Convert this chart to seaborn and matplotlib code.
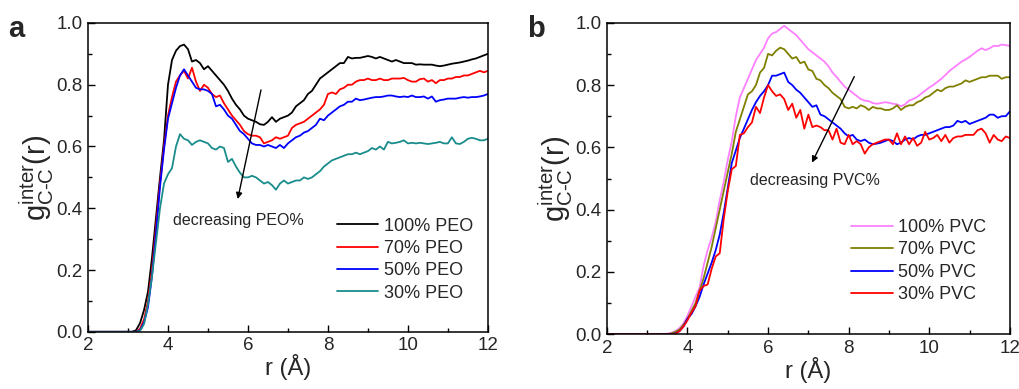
import numpy as np
import seaborn as sns
import matplotlib.pyplot as plt
from matplotlib.ticker import MultipleLocator

# r grid (0.1 A steps, 2..12)
r = np.round(np.arange(2, 12.05, 0.1), 1)

# panel a: PEO blends
peo_100 = [0, 0, 0, 0, 0, 0, 0, 0, 0, 0,
           0, 0, 0.005, 0.028, 0.07, 0.13, 0.24, 0.37, 0.50, 0.62,
           0.80, 0.88, 0.91, 0.925, 0.93, 0.915, 0.875, 0.88, 0.87, 0.85,
           0.86, 0.845, 0.83, 0.815, 0.80, 0.78, 0.755, 0.735, 0.72, 0.70,
           0.69, 0.685, 0.68, 0.672, 0.67, 0.68, 0.695, 0.68, 0.69, 0.695,
           0.70, 0.71, 0.73, 0.74, 0.75, 0.77, 0.78, 0.80, 0.82, 0.83,
           0.84, 0.85, 0.86, 0.87, 0.87, 0.89, 0.885, 0.887, 0.887, 0.89,
           0.893, 0.89, 0.885, 0.89, 0.885, 0.88, 0.875, 0.88, 0.875, 0.87,
           0.87, 0.87, 0.865, 0.866, 0.865, 0.865, 0.865, 0.862, 0.86, 0.862,
           0.865, 0.868, 0.87, 0.872, 0.875, 0.878, 0.882, 0.885, 0.89, 0.895,
           0.90]
peo_70 = [0, 0, 0, 0, 0, 0, 0, 0, 0, 0,
          0, 0, 0, 0.01, 0.04, 0.10, 0.20, 0.34, 0.48, 0.60,
          0.70, 0.76, 0.81, 0.83, 0.845, 0.82, 0.855, 0.81, 0.78, 0.80,
          0.79, 0.77, 0.76, 0.765, 0.74, 0.72, 0.70, 0.685, 0.67, 0.65,
          0.64, 0.635, 0.635, 0.63, 0.61, 0.615, 0.62, 0.63, 0.625, 0.63,
          0.635, 0.66, 0.67, 0.675, 0.68, 0.69, 0.70, 0.71, 0.72, 0.735,
          0.77, 0.775, 0.77, 0.785, 0.79, 0.80, 0.80, 0.81, 0.815, 0.815,
          0.82, 0.815, 0.815, 0.82, 0.815, 0.815, 0.82, 0.82, 0.82, 0.822,
          0.815, 0.81, 0.81, 0.818, 0.82, 0.81, 0.815, 0.805, 0.815, 0.815,
          0.82, 0.82, 0.825, 0.825, 0.83, 0.83, 0.835, 0.84, 0.845, 0.84,
          0.845]
peo_50 = [0, 0, 0, 0, 0, 0, 0, 0, 0, 0,
          0, 0, 0, 0.005, 0.03, 0.08, 0.18, 0.32, 0.47, 0.59,
          0.69, 0.74, 0.79, 0.83, 0.85, 0.83, 0.81, 0.79, 0.785, 0.785,
          0.78, 0.77, 0.73, 0.735, 0.72, 0.70, 0.69, 0.67, 0.65, 0.64,
          0.625, 0.61, 0.605, 0.605, 0.60, 0.605, 0.60, 0.595, 0.605, 0.595,
          0.61, 0.62, 0.63, 0.635, 0.645, 0.65, 0.66, 0.67, 0.69, 0.685,
          0.70, 0.71, 0.72, 0.73, 0.735, 0.745, 0.745, 0.755, 0.75, 0.752,
          0.755, 0.758, 0.76, 0.76, 0.762, 0.765, 0.765, 0.762, 0.76, 0.762,
          0.76, 0.765, 0.76, 0.76, 0.762, 0.755, 0.762, 0.745, 0.75, 0.752,
          0.755, 0.755, 0.755, 0.758, 0.76, 0.758, 0.76, 0.76, 0.762, 0.765,
          0.77]
peo_30 = [0, 0, 0, 0, 0, 0, 0, 0, 0, 0,
          0, 0, 0, 0.003, 0.025, 0.09, 0.18, 0.29, 0.40, 0.48,
          0.51, 0.53, 0.60, 0.64, 0.625, 0.62, 0.605, 0.615, 0.62, 0.615,
          0.61, 0.595, 0.59, 0.60, 0.595, 0.55, 0.56, 0.535, 0.515, 0.50,
          0.50, 0.505, 0.50, 0.49, 0.48, 0.485, 0.475, 0.46, 0.48, 0.49,
          0.48, 0.485, 0.49, 0.49, 0.50, 0.495, 0.50, 0.51, 0.52, 0.535,
          0.545, 0.555, 0.56, 0.565, 0.57, 0.575, 0.575, 0.58, 0.575, 0.58,
          0.585, 0.595, 0.59, 0.60, 0.59, 0.615, 0.61, 0.612, 0.615, 0.62,
          0.61, 0.612, 0.61, 0.612, 0.61, 0.608, 0.61, 0.612, 0.615, 0.61,
          0.61, 0.63, 0.61, 0.608, 0.615, 0.625, 0.628, 0.625, 0.62, 0.62,
          0.625]

# panel b: PVC blends
pvc_100 = [0, 0, 0, 0, 0, 0, 0, 0, 0, 0,
           0, 0, 0, 0, 0, 0.002, 0.005, 0.01, 0.02, 0.035,
           0.06, 0.09, 0.12, 0.15, 0.22, 0.27, 0.31, 0.36, 0.43, 0.49,
           0.56, 0.62, 0.70, 0.76, 0.79, 0.82, 0.85, 0.88, 0.90, 0.92,
           0.95, 0.965, 0.97, 0.98, 0.99, 0.98, 0.97, 0.96, 0.945, 0.93,
           0.915, 0.905, 0.895, 0.885, 0.875, 0.86, 0.84, 0.826, 0.81, 0.795,
           0.785, 0.775, 0.765, 0.755, 0.75, 0.748, 0.742, 0.74, 0.742, 0.745,
           0.743, 0.74, 0.738, 0.732, 0.738, 0.75, 0.755, 0.762, 0.772, 0.782,
           0.792, 0.80, 0.81, 0.82, 0.832, 0.845, 0.855, 0.865, 0.875, 0.882,
           0.89, 0.90, 0.91, 0.918, 0.912, 0.918, 0.926, 0.925, 0.93, 0.928,
           0.926]
pvc_70 = [0, 0, 0, 0, 0, 0, 0, 0, 0, 0,
          0, 0, 0, 0, 0, 0, 0.003, 0.008, 0.015, 0.03,
          0.05, 0.075, 0.10, 0.14, 0.18, 0.23, 0.28, 0.34, 0.40, 0.46,
          0.52, 0.58, 0.65, 0.69, 0.73, 0.77, 0.78, 0.80, 0.84, 0.855,
          0.90, 0.895, 0.91, 0.92, 0.915, 0.90, 0.885, 0.89, 0.87, 0.875,
          0.85, 0.845, 0.82, 0.815, 0.80, 0.79, 0.775, 0.765, 0.755, 0.73,
          0.725, 0.73, 0.725, 0.735, 0.73, 0.72, 0.73, 0.725, 0.725, 0.72,
          0.72, 0.725, 0.735, 0.72, 0.73, 0.735, 0.735, 0.745, 0.75, 0.76,
          0.765, 0.775, 0.785, 0.78, 0.79, 0.795, 0.795, 0.80, 0.805, 0.815,
          0.81, 0.815, 0.82, 0.825, 0.825, 0.83, 0.83, 0.83, 0.82, 0.825,
          0.825]
pvc_50 = [0, 0, 0, 0, 0, 0, 0, 0, 0, 0,
          0, 0, 0, 0, 0, 0, 0, 0.003, 0.01, 0.025,
          0.05, 0.065, 0.09, 0.12, 0.16, 0.195, 0.23, 0.27, 0.32, 0.39,
          0.47, 0.55, 0.59, 0.63, 0.66, 0.69, 0.72, 0.745, 0.765, 0.78,
          0.80, 0.83, 0.83, 0.835, 0.84, 0.81, 0.80, 0.785, 0.775, 0.76,
          0.745, 0.73, 0.735, 0.705, 0.70, 0.69, 0.68, 0.67, 0.66, 0.645,
          0.635, 0.64, 0.625, 0.62, 0.625, 0.615, 0.61, 0.612, 0.615, 0.62,
          0.625, 0.62, 0.61, 0.615, 0.625, 0.63, 0.625, 0.635, 0.64, 0.64,
          0.645, 0.65, 0.655, 0.66, 0.665, 0.665, 0.67, 0.685, 0.68, 0.685,
          0.675, 0.68, 0.685, 0.69, 0.695, 0.705, 0.705, 0.695, 0.70, 0.70,
          0.715]
pvc_30 = [0, 0, 0, 0, 0, 0, 0, 0, 0, 0,
          0, 0, 0, 0, 0, 0, 0, 0.002, 0.01, 0.025,
          0.045, 0.07, 0.09, 0.14, 0.155, 0.16, 0.21, 0.25, 0.26, 0.37,
          0.46, 0.53, 0.54, 0.64, 0.645, 0.665, 0.68, 0.73, 0.71, 0.76,
          0.80, 0.78, 0.765, 0.77, 0.755, 0.72, 0.74, 0.695, 0.72, 0.66,
          0.705, 0.665, 0.67, 0.665, 0.655, 0.655, 0.625, 0.66, 0.615, 0.61,
          0.64, 0.61, 0.62, 0.61, 0.58, 0.60, 0.61, 0.615, 0.62, 0.625,
          0.625, 0.61, 0.645, 0.61, 0.635, 0.61, 0.63, 0.605, 0.615, 0.65,
          0.625, 0.63, 0.64, 0.62, 0.64, 0.615, 0.63, 0.635, 0.635, 0.64,
          0.64, 0.64, 0.655, 0.66, 0.645, 0.615, 0.64, 0.625, 0.62, 0.635,
          0.63]

peo_labels = ["100% PEO", "70% PEO", "50% PEO", "30% PEO"]
pvc_labels = ["100% PVC", "70% PVC", "50% PVC", "30% PVC"]
peo_colors = ["black", "#ff0000", "#0000ff", "#1a8c8c"]
pvc_colors = ["#ff80ff", "#808000", "#0000ff", "#ff0000"]

sns.set_theme(style="ticks")
plt.rcParams["font.family"] = ["Liberation Sans", "DejaVu Sans"]
plt.rcParams["mathtext.fontset"] = "custom"
plt.rcParams["mathtext.rm"] = "Liberation Sans"
plt.rcParams["mathtext.it"] = "Liberation Sans"

fig = plt.figure(figsize=(10.2, 3.89), dpi=100)
ax_a = fig.add_axes([0.0863, 0.147, 0.392, 0.794])
ax_b = fig.add_axes([0.595, 0.1406, 0.395, 0.801])


def draw_panel(ax, series, labels, colors, leg_anchor):
    for vals, lab, col in zip(series, labels, colors):
        sns.lineplot(x=r, y=vals, ax=ax, color=col, label=lab, linewidth=1.3)
    ax.set_xlim(2, 12)
    ax.set_ylim(0, 1.0)
    ax.xaxis.set_major_locator(MultipleLocator(2))
    ax.xaxis.set_minor_locator(MultipleLocator(1))
    ax.yaxis.set_major_locator(MultipleLocator(0.2))
    ax.yaxis.set_minor_locator(MultipleLocator(0.1))
    ax.yaxis.set_major_formatter(plt.FormatStrFormatter("%.1f"))
    ax.tick_params(which="both", direction="in", top=False, right=False,
                   labelsize=13.5, color="black", width=1)
    ax.tick_params(which="major", length=5, pad=4)
    ax.tick_params(which="minor", length=3)
    for sp in ax.spines.values():
        sp.set_visible(True)
        sp.set_color("black")
        sp.set_linewidth(1.1)
    ax.set_xlabel("r (Å)", fontsize=17, labelpad=0)
    ax.set_ylabel(r"$\mathrm{g_{C\text{-}C}^{inter}(r)}$", fontsize=21, labelpad=0)
    ax.legend(loc="upper left", bbox_to_anchor=leg_anchor, frameon=False,
              fontsize=13, handlelength=2.3, handletextpad=0.3,
              labelspacing=0.3, borderpad=0, borderaxespad=0)


draw_panel(ax_a, [peo_100, peo_70, peo_50, peo_30], peo_labels, peo_colors,
           (0.6225, 0.37))
draw_panel(ax_b, [pvc_100, pvc_70, pvc_50, pvc_30], pvc_labels, pvc_colors,
           (0.607, 0.37))

ax_a.annotate("", xy=(5.73, 0.421), xytext=(6.34, 0.792),
              arrowprops=dict(arrowstyle="-|>", color="black", lw=1,
                              mutation_scale=9))
ax_a.text(4.13, 0.362, "decreasing PEO%", fontsize=11.5, va="center", ha="left")
ax_b.annotate("", xy=(7.06, 0.543), xytext=(8.17, 0.835),
              arrowprops=dict(arrowstyle="-|>", color="black", lw=1,
                              mutation_scale=9))
ax_b.text(5.55, 0.495, "decreasing PVC%", fontsize=11.5, va="center", ha="left")

fig.text(0.008, 0.925, "a", fontsize=21, fontweight="bold", va="center")
fig.text(0.517, 0.925, "b", fontsize=21, fontweight="bold", va="center")

fig.savefig("out.png", dpi=100)
